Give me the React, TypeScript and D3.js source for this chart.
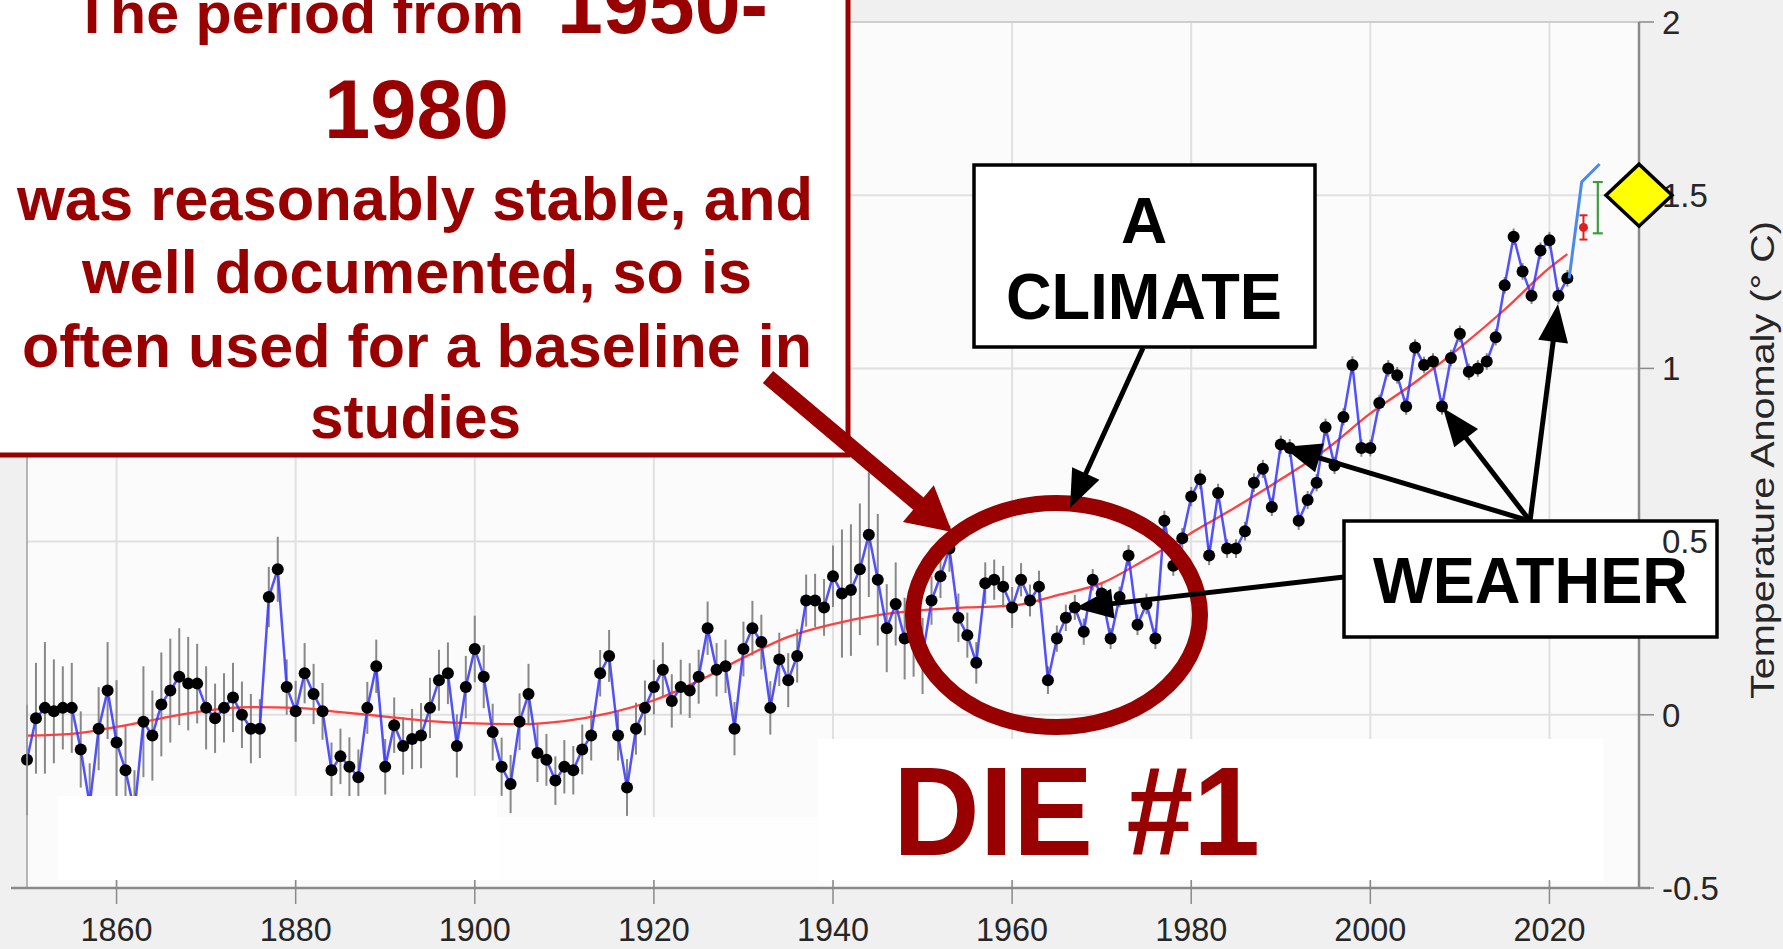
import React from "react";
import * as d3 from "d3";

const W = 1783;
const H = 949;
const START_YEAR = 1850;

// annual anomalies 1850..2022 (°C)
const anomalies = [
  -0.13, -0.01, 0.02, 0.01, 0.02, 0.02, -0.10, -0.26, -0.04, 0.07,
  -0.08, -0.16, -0.28, -0.02, -0.06, 0.03, 0.07, 0.11, 0.09, 0.09,
  0.02, -0.01, 0.02, 0.05, 0.00, -0.04, -0.04, 0.34, 0.42, 0.08,
  0.01, 0.12, 0.06, 0.01, -0.16, -0.12, -0.15, -0.18, 0.02, 0.14,
  -0.15, -0.03, -0.09, -0.07, -0.06, 0.02, 0.10, 0.12, -0.09, 0.08,
  0.19, 0.11, -0.05, -0.15, -0.20, -0.02, 0.06, -0.11, -0.13, -0.19,
  -0.15, -0.16, -0.10, -0.06, 0.12, 0.17, -0.06, -0.21, -0.04, 0.02,
  0.08, 0.13, 0.04, 0.08, 0.07, 0.11, 0.25, 0.13, 0.14, -0.04,
  0.19, 0.25, 0.21, 0.02, 0.16, 0.10, 0.17, 0.33, 0.33, 0.31,
  0.40, 0.35, 0.36, 0.42, 0.52, 0.39, 0.25, 0.32, 0.22, 0.22,
  0.17, 0.33, 0.40, 0.48, 0.28, 0.23, 0.15, 0.38, 0.39, 0.37,
  0.31, 0.39, 0.33, 0.37, 0.10, 0.22, 0.28, 0.31, 0.24, 0.39,
  0.35, 0.22, 0.34, 0.46, 0.26, 0.32, 0.22, 0.56, 0.43, 0.51,
  0.63, 0.68, 0.46, 0.64, 0.48, 0.48, 0.53, 0.67, 0.71, 0.60,
  0.78, 0.77, 0.56, 0.62, 0.67, 0.83, 0.72, 0.86, 1.01, 0.77,
  0.77, 0.90, 1.00, 0.98, 0.89, 1.06, 1.01, 1.02, 0.89, 1.03,
  1.10, 0.99, 1.00, 1.02, 1.09, 1.24, 1.38, 1.28, 1.21, 1.34,
  1.37, 1.21, 1.26,
];

// half-length of the uncertainty bars
const uncertainty = [
  0.16, 0.16, 0.19, 0.15, 0.12, 0.13, 0.11, 0.12, 0.12, 0.14,
  0.18, 0.13, 0.12, 0.16, 0.13, 0.15, 0.15, 0.14, 0.135, 0.115,
  0.12, 0.10, 0.10, 0.10, 0.096, 0.10, 0.085, 0.087, 0.094, 0.08,
  0.088, 0.087, 0.087, 0.082, 0.08, 0.08, 0.085, 0.08, 0.075, 0.077,
  0.08, 0.08, 0.083, 0.087, 0.094, 0.087, 0.088, 0.089, 0.091, 0.09,
  0.096, 0.091, 0.082, 0.084, 0.084, 0.082, 0.087, 0.084, 0.075, 0.07,
  0.077, 0.07, 0.072, 0.072, 0.067, 0.075, 0.072, 0.082, 0.075, 0.079,
  0.079, 0.079, 0.077, 0.079, 0.079, 0.078, 0.077, 0.077, 0.077, 0.077,
  0.079, 0.079, 0.079, 0.077, 0.077, 0.078, 0.077, 0.075, 0.077, 0.082,
  0.089, 0.185, 0.19, 0.19, 0.18, 0.19, 0.127, 0.12, 0.118, 0.11,
  0.11, 0.07, 0.063, 0.067, 0.07, 0.065, 0.06, 0.06, 0.058, 0.06,
  0.059, 0.048, 0.046, 0.046, 0.04, 0.038, 0.038, 0.036, 0.038, 0.031,
  0.03, 0.03, 0.03, 0.03, 0.03, 0.03, 0.03, 0.029, 0.029, 0.029,
  0.028, 0.028, 0.028, 0.027, 0.027, 0.027, 0.027, 0.027, 0.026, 0.026,
  0.026, 0.026, 0.026, 0.026, 0.025, 0.025, 0.025, 0.025, 0.025, 0.025,
  0.024, 0.024, 0.024, 0.024, 0.024, 0.024, 0.024, 0.024, 0.024, 0.024,
  0.024, 0.024, 0.024, 0.024, 0.024, 0.024, 0.024, 0.024, 0.024, 0.024,
  0.024, 0.024, 0.024,
];

// smoothed trend (red line)
const smoothYears = [1850, 1855, 1860, 1865, 1870, 1875, 1880, 1885, 1890, 1895, 1900, 1905, 1910, 1915, 1920, 1925, 1930, 1935, 1940, 1945, 1950, 1955, 1960, 1965, 1970, 1975, 1980, 1985, 1990, 1995, 2000, 2005, 2010, 2015, 2020, 2022];
const smoothValues = [-0.06, -0.055, -0.035, -0.01, 0.012, 0.022, 0.02, 0.008, -0.005, -0.018, -0.025, -0.027, -0.018, 0.005, 0.042, 0.098, 0.165, 0.225, 0.262, 0.288, 0.302, 0.31, 0.315, 0.345, 0.38, 0.45, 0.525, 0.6, 0.68, 0.765, 0.87, 0.96, 1.06, 1.17, 1.29, 1.33];

// recent extension (light blue line)
const recentYears = [2022.2, 2023.6, 2025.6];
const recentValues = [1.26, 1.538, 1.59];

const redPointYear = 2023.8;
const redPointValue = 1.407;
const redPointErr = 0.035;
const greenBarYear = 2025.4;
const greenBarLow = 1.39;
const greenBarHigh = 1.538;
const diamondYear = 2030;
const diamondValue = 1.5;

const xTicks = [1860, 1880, 1900, 1920, 1940, 1960, 1980, 2000, 2020];
const yTicks = [-0.5, 0, 0.5, 1, 1.5, 2];
const yTickLabels = ["-0.5", "0", "0.5", "1", "1.5", "2"];

const DARK_RED = "#990000";
const FONT = "'Liberation Sans', Arial, Helvetica, sans-serif";

function arrowHead(x1: number, y1: number, x2: number, y2: number, len: number, hw: number) {
  const dx = x2 - x1;
  const dy = y2 - y1;
  const d = Math.hypot(dx, dy);
  const ux = dx / d;
  const uy = dy / d;
  const bx = x2 - ux * len;
  const by = y2 - uy * len;
  return {
    path: `M${x2},${y2}L${bx - uy * hw},${by + ux * hw}L${bx + uy * hw},${by - ux * hw}Z`,
    bx: x2 - ux * (len - 2),
    by: y2 - uy * (len - 2),
  };
}

function Arrow({ x1, y1, x2, y2, color, width, len, hw }: any) {
  const h = arrowHead(x1, y1, x2, y2, len, hw);
  return (
    <g>
      <line x1={x1} y1={y1} x2={h.bx} y2={h.by} stroke={color} strokeWidth={width} />
      <path d={h.path} fill={color} />
    </g>
  );
}

export default function App() {
  const x = d3.scaleLinear().domain([1850, 2030]).range([27, 1639]);
  const y = d3.scaleLinear().domain([-0.5, 2]).range([888, 22]);

  const data = anomalies.map((v, i) => ({ year: START_YEAR + i, v, e: uncertainty[i] }));

  const line = d3
    .line<{ year: number; v: number }>()
    .x((d) => x(d.year))
    .y((d) => y(d.v));
  const smoothLine = d3
    .line<number>()
    .x((_, i) => x(smoothYears[i]))
    .y((d) => y(d))
    .curve(d3.curveMonotoneX);
  const recentLine = d3
    .line<number>()
    .x((_, i) => x(recentYears[i]))
    .y((d) => y(d));

  const dx = x(diamondYear);
  const dy = y(diamondValue);

  return (
    <svg
      width={W}
      height={H}
      viewBox={`0 0 ${W} ${H}`}
      style={{ position: "absolute", left: 0, top: 0, display: "block" }}
      fontFamily={FONT}
    >
      <rect x={0} y={0} width={W} height={H} fill="#f0f0f0" />
      <rect x={x(1850)} y={y(2)} width={x(2030) - x(1850)} height={y(-0.5) - y(2)} fill="#fbfbfb" />

      {/* grid */}
      {xTicks.map((t) => (
        <line key={"gx" + t} x1={x(t)} x2={x(t)} y1={y(2)} y2={y(-0.5)} stroke="#e0e0e0" strokeWidth={2} />
      ))}
      {yTicks.map((t) => (
        <line key={"gy" + t} x1={x(1850)} x2={x(2030)} y1={y(t)} y2={y(t)} stroke="#e0e0e0" strokeWidth={2} />
      ))}

      {/* error bars */}
      {data.map((d) => (
        <line
          key={"e" + d.year}
          x1={x(d.year)}
          x2={x(d.year)}
          y1={y(d.v - d.e)}
          y2={y(d.v + d.e)}
          stroke="#888888"
          strokeWidth={2}
        />
      ))}

      <path d={smoothLine(smoothValues) || ""} fill="none" stroke="#ff4040" strokeWidth={2.3} />
      <path d={line(data) || ""} fill="none" stroke="#3333ff" strokeWidth={2.5} strokeOpacity={0.85} />
      {data.map((d) => (
        <circle key={"p" + d.year} cx={x(d.year)} cy={y(d.v)} r={6} fill="#000" />
      ))}

      {/* recent */}
      <path d={recentLine(recentValues) || ""} fill="none" stroke="#4a8af0" strokeWidth={3} />
      <g stroke="#e02020" strokeWidth={2}>
        <line x1={x(redPointYear)} x2={x(redPointYear)} y1={y(redPointValue - redPointErr)} y2={y(redPointValue + redPointErr)} />
        <line x1={x(redPointYear) - 4} x2={x(redPointYear) + 4} y1={y(redPointValue - redPointErr)} y2={y(redPointValue - redPointErr)} />
        <line x1={x(redPointYear) - 4} x2={x(redPointYear) + 4} y1={y(redPointValue + redPointErr)} y2={y(redPointValue + redPointErr)} />
      </g>
      <circle cx={x(redPointYear)} cy={y(redPointValue)} r={4.5} fill="#e02020" />
      <g stroke="#3f9a3f" strokeWidth={2.2}>
        <line x1={x(greenBarYear)} x2={x(greenBarYear)} y1={y(greenBarLow)} y2={y(greenBarHigh)} />
        <line x1={x(greenBarYear) - 5} x2={x(greenBarYear) + 5} y1={y(greenBarLow)} y2={y(greenBarLow)} />
        <line x1={x(greenBarYear) - 5} x2={x(greenBarYear) + 5} y1={y(greenBarHigh)} y2={y(greenBarHigh)} />
      </g>

      {/* white patches */}
      <rect x={58} y={796} width={439} height={84} fill="#ffffff" />
      <rect x={497} y={817} width={321} height={63} fill="#fefefe" />
      <rect x={818} y={739} width={785} height={142} fill="#ffffff" />
      <text x={893} y={855} fontSize={127} fontWeight="bold" fill={DARK_RED} textLength={367} lengthAdjust="spacingAndGlyphs">
        DIE #1
      </text>

      {/* axes */}
      <line x1={x(1850)} x2={x(1850)} y1={y(2)} y2={y(-0.5)} stroke="#a0a0a0" strokeWidth={1.5} />
      <line x1={x(1850)} x2={x(2030)} y1={y(2)} y2={y(2)} stroke="#c8c8c8" strokeWidth={1.5} />
      <line x1={11} x2={1650} y1={y(-0.5)} y2={y(-0.5)} stroke="#8a8a8a" strokeWidth={2.5} />
      <line x1={x(2030)} x2={x(2030)} y1={y(2)} y2={y(-0.5)} stroke="#8a8a8a" strokeWidth={2.5} />
      {xTicks.map((t) => (
        <line key={"tx" + t} x1={x(t)} x2={x(t)} y1={y(-0.5) - 8} y2={y(-0.5) + 16} stroke="#8a8a8a" strokeWidth={1.5} />
      ))}
      {yTicks.map((t) => (
        <line key={"ty" + t} x1={x(2030)} x2={x(2030) + 15} y1={y(t)} y2={y(t)} stroke="#8a8a8a" strokeWidth={1.5} />
      ))}
      {xTicks.map((t) => (
        <text key={"lx" + t} x={x(t)} y={941} fontSize={34} fill="#262626" textAnchor="middle" textLength={72} lengthAdjust="spacingAndGlyphs">
          {t}
        </text>
      ))}

      {/* ellipse */}
      <ellipse cx={1056.5} cy={615} rx={143.5} ry={112} fill="none" stroke={DARK_RED} strokeWidth={16} />

      {/* text box */}
      <rect x={-10} y={-10} width={858} height={465} fill="#ffffff" stroke={DARK_RED} strokeWidth={5} />
      <g fill={DARK_RED} fontWeight="bold">
        <text x={74} y={33} fontSize={58} textLength={450} lengthAdjust="spacingAndGlyphs">The period from</text>
        <text x={557} y={33} fontSize={84} textLength={211} lengthAdjust="spacingAndGlyphs">1950-</text>
        <text x={324} y={138} fontSize={84} textLength={185} lengthAdjust="spacingAndGlyphs">1980</text>
        <text x={17} y={220} fontSize={61} textLength={796} lengthAdjust="spacingAndGlyphs">was reasonably stable, and</text>
        <text x={82} y={293} fontSize={61} textLength={670} lengthAdjust="spacingAndGlyphs">well documented, so is</text>
        <text x={22} y={367} fontSize={61} textLength={790} lengthAdjust="spacingAndGlyphs">often used for a baseline in</text>
        <text x={310} y={438} fontSize={61} textLength={211} lengthAdjust="spacingAndGlyphs">studies</text>
      </g>
      <Arrow x1={768} y1={377} x2={952} y2={532} color={DARK_RED} width={16} len={44} hw={24} />

      {/* CLIMATE box */}
      <Arrow x1={1143} y1={348} x2={1070} y2={508} color="#000" width={5} len={38} hw={15} />
      <rect x={974} y={165} width={341} height={182} fill="#ffffff" stroke="#000" strokeWidth={3.5} />
      <g fontWeight="bold" fill="#000" fontSize={64}>
        <text x={1144} y={243} textAnchor="middle">A</text>
        <text x={1006} y={319} textLength={276} lengthAdjust="spacingAndGlyphs">CLIMATE</text>
      </g>

      {/* WEATHER box and arrows */}
      <Arrow x1={1530} y1={521} x2={1283} y2={447} color="#000" width={5} len={38} hw={15} />
      <Arrow x1={1530} y1={521} x2={1443} y2={408} color="#000" width={5} len={38} hw={15} />
      <Arrow x1={1530} y1={521} x2={1558} y2={304} color="#000" width={5} len={38} hw={15} />
      <Arrow x1={1344} y1={577} x2={1075} y2={608} color="#000" width={5} len={38} hw={15} />
      <rect x={1344} y={521} width={373} height={116} fill="#ffffff" stroke="#000" strokeWidth={3.5} />
      <text x={1373} y={603} fontSize={64} fontWeight="bold" fill="#000" textLength={315} lengthAdjust="spacingAndGlyphs">
        WEATHER
      </text>

      {/* y tick labels */}
      {yTicks.map((t, i) => (
        <text key={"ly" + t} x={1662} y={y(t)} dy="0.36em" fontSize={33} fill="#262626">
          {yTickLabels[i]}
        </text>
      ))}

      {/* diamond */}
      <path d={`M${dx - 33},${dy}L${dx},${dy - 31}L${dx + 33},${dy}L${dx},${dy + 31}Z`} fill="#ffff00" stroke="#000" strokeWidth={3.5} />

      <text
        transform="translate(1762,460) rotate(-90)"
        textAnchor="middle"
        dy="0.36em"
        fontSize={33}
        fill="#262626"
        textLength={478}
        lengthAdjust="spacingAndGlyphs"
      >
        Temperature Anomaly (° C)
      </text>
    </svg>
  );
}
